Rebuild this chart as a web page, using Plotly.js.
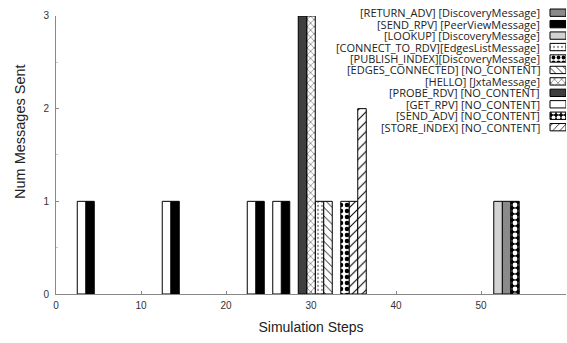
<!DOCTYPE html>
<html><head><meta charset="utf-8">
<script src="https://cdn.plot.ly/plotly-3.0.1.min.js"></script>
<style>html,body{margin:0;padding:0;background:#fff}#chart{width:567px;height:343px}</style>
</head><body><div id="chart"></div>
<script>
// Series names (legend order, top to bottom)
const seriesNames = [
  "[RETURN_ADV] [DiscoveryMessage]",
  "[SEND_RPV] [PeerViewMessage]",
  "[LOOKUP] [DiscoveryMessage]",
  "[CONNECT_TO_RDV][EdgesListMessage]",
  "[PUBLISH_INDEX][DiscoveryMessage]",
  "[EDGES_CONNECTED] [NO_CONTENT]",
  "[HELLO] [JxtaMessage]",
  "[PROBE_RDV] [NO_CONTENT]",
  "[GET_RPV] [NO_CONTENT]",
  "[SEND_ADV] [NO_CONTENT]",
  "[STORE_INDEX] [NO_CONTENT]"
];
// Simulation steps and counts per series
const returnAdvSteps = [53];            const returnAdvCounts = [1];
const sendRpvSteps = [4, 14, 24, 27];   const sendRpvCounts = [1, 1, 1, 1];
const lookupSteps = [52];               const lookupCounts = [1];
const connectSteps = [31];              const connectCounts = [1];
const publishSteps = [34];              const publishCounts = [1];
const edgesSteps = [32];                const edgesCounts = [1];
const helloSteps = [30];                const helloCounts = [3];
const probeSteps = [29];                const probeCounts = [3];
const getRpvSteps = [3, 13, 23, 26];    const getRpvCounts = [1, 1, 1, 1];
const sendAdvSteps = [54];              const sendAdvCounts = [1];
const storeSteps = [35, 36];            const storeCounts = [1, 2];

const xTicks = [0, 10, 20, 30, 40, 50, 60];
const yTicks = [0, 1, 2, 3];

const steps = [returnAdvSteps, sendRpvSteps, lookupSteps, connectSteps, publishSteps, edgesSteps, helloSteps, probeSteps, getRpvSteps, sendAdvSteps, storeSteps];
const counts = [returnAdvCounts, sendRpvCounts, lookupCounts, connectCounts, publishCounts, edgesCounts, helloCounts, probeCounts, getRpvCounts, sendAdvCounts, storeCounts];

// styles
const styles = [
  {color: "#8a8a8a"},
  {color: "#000000"},
  {color: "#d2d2d2"},
  {color: "#ffffff", pattern: {shape: ".", fgcolor: "#9a9a9a", bgcolor: "#ffffff", size: 4, solidity: 0.25}},
  {color: "#ffffff", pattern: {shape: ".", fgcolor: "#000000", bgcolor: "#ffffff", size: 6, solidity: 0.45}},
  {color: "#ffffff", pattern: {shape: "\\", fgcolor: "#000000", bgcolor: "#ffffff", size: 6, solidity: 0.15}},
  {color: "#ffffff", pattern: {shape: "x", fgcolor: "#000000", bgcolor: "#ffffff", size: 5, solidity: 0.15}},
  {color: "#3f3f3f"},
  {color: "#ffffff"},
  {color: "#000000", pattern: {shape: ".", fgcolor: "#ffffff", bgcolor: "#000000", size: 6, solidity: 0.5}},
  {color: "#ffffff", pattern: {shape: "/", fgcolor: "#000000", bgcolor: "#ffffff", size: 7, solidity: 0.15}}
];

const traces = [];
seriesNames.forEach((name, i) => {
  const m = {color: styles[i].color, line: {color: "#000", width: 1}};
  if (styles[i].pattern) m.pattern = styles[i].pattern;
  traces.push({type: "bar", name: name, x: steps[i], y: counts[i], width: 1,
    marker: m, showlegend: false, hoverinfo: "x+y+name", xaxis: "x", yaxis: "y"});
});
// Legend swatches drawn on a separate (hidden) axis pair
seriesNames.forEach((name, i) => {
  const m = {color: styles[i].color, line: {color: "#000", width: 1}};
  if (styles[i].pattern) m.pattern = Object.assign({}, styles[i].pattern, {size: Math.min(styles[i].pattern.size, 5)});
  traces.push({type: "bar", orientation: "h", name: name, y: [i], x: [1], base: [0], width: 0.64,
    marker: m, showlegend: false, hoverinfo: "skip", xaxis: "x2", yaxis: "y2"});
});

const annotations = seriesNames.map((name, i) => ({
  text: name, xref: "x2", yref: "y2", x: -0.5, y: i, xanchor: "right", yanchor: "middle",
  showarrow: false, font: {family: "Open Sans", size: 11, color: "#222"}
}));
annotations.push({
  text: "Num Messages Sent", xref: "paper", yref: "paper", x: -0.0706, y: 0.564,
  xanchor: "center", yanchor: "middle", textangle: -90, showarrow: false,
  font: {family: "Liberation Sans", size: 14.5, color: "#222"}
});

const tickFont = {family: "Liberation Sans", size: 10, color: "#333"};
const layout = {
  width: 567, height: 343,
  margin: {l: 56, r: 1, t: 5, b: 49},
  paper_bgcolor: "#fff", plot_bgcolor: "rgba(0,0,0,0)",
  barmode: "overlay", bargap: 0,
  showlegend: false,
  xaxis: {range: [0, 60], domain: [0, 1], anchor: "y", tickvals: xTicks, ticktext: xTicks.map(String),
    ticks: "inside", ticklen: 3, tickcolor: "#888", showline: true, linecolor: "#888", linewidth: 1,
    showgrid: false, zeroline: false, tickfont: tickFont, ticklabelstandoff: 2,
    title: {text: "Simulation Steps", font: {family: "Liberation Sans", size: 14, color: "#222"}, standoff: 12}},
  yaxis: {range: [0, 3], domain: [0, 0.962], anchor: "x", tickvals: yTicks, ticktext: yTicks.map(String),
    ticks: "inside", ticklen: 3, tickcolor: "#888", showline: true, linecolor: "#888", linewidth: 1,
    showgrid: false, zeroline: false, tickfont: tickFont, ticklabelstandoff: 4,
    minor: {dtick: 0.5, ticks: "inside", ticklen: 2, tickcolor: "#ccc"}},
  xaxis2: {range: [-30.875, 1], domain: [0, 1], anchor: "y2", visible: false, fixedrange: true},
  yaxis2: {range: [24.57, -0.672], domain: [0, 1], anchor: "x2", visible: false, fixedrange: true},
  annotations: annotations
};
Plotly.newPlot("chart", traces, layout, {displayModeBar: false, staticPlot: true});
</script></body></html>
